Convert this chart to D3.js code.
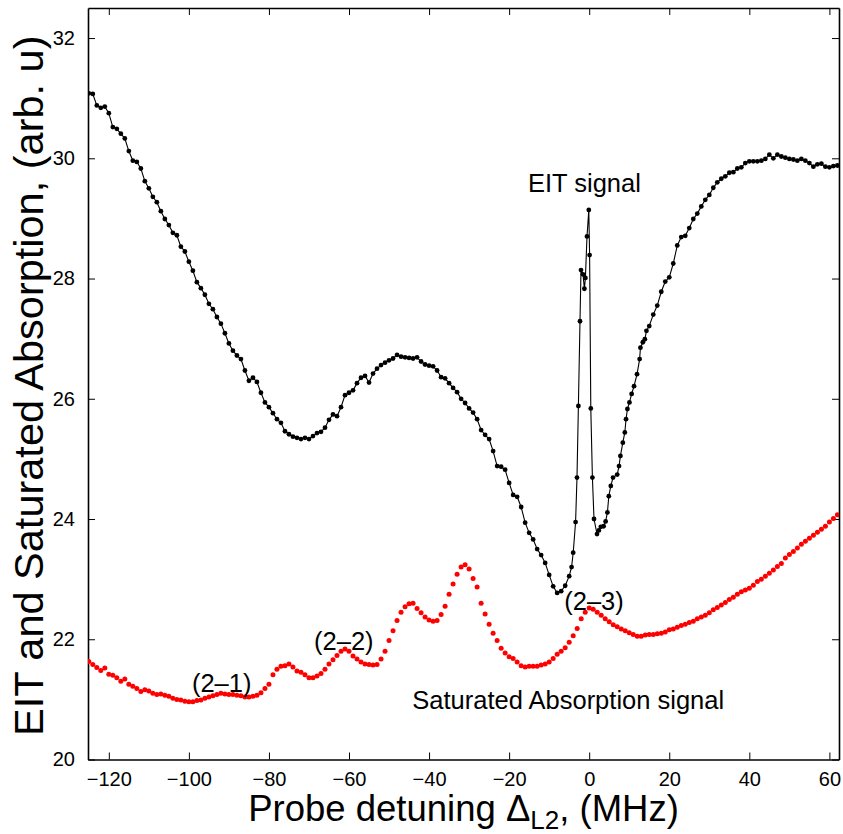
<!DOCTYPE html>
<html><head><meta charset="utf-8">
<script src="https://cdn.jsdelivr.net/npm/d3@7"></script>
<style>
html,body{margin:0;padding:0;background:#fff;}
svg{display:block;font-family:"Liberation Sans",Arial,sans-serif;}
</style></head>
<body>
<svg id="chart" width="843" height="834"></svg>
<script>
// ---- Data ----
const eitFreq = [-125,-124,-123,-122,-121,-120,-119,-118,-117,-116,-115,-114,-113,-112,-111,-110,-109,-108,-107,-106,-105,-104,-103,-102,-101,-100,-99,-98,-97,-96,-95,-94,-93,-92,-91,-90,-89,-88,-87,-86,-85,-84,-83,-82,-81,-80,-79,-78,-77,-76,-75,-74,-73,-72,-71,-70,-69,-68,-67,-66,-65,-64,-63,-62,-61,-60,-59,-58,-57,-56,-55,-54,-53,-52,-51,-50,-49,-48,-47,-46,-45,-44,-43,-42,-41,-40,-39,-38,-37,-36,-35,-34,-33,-32,-31,-30,-29,-28,-27,-26,-25,-24,-23,-22,-21,-20,-19,-18,-17,-16,-15,-14,-13,-12,-11,-10,-9,-8,-7,-6,-5,-4.4,-4,-3.4,-3.05,-2.7,-2.3,-2.05,-1.55,-1.2,-0.95,-0.55,-0.1,0.1,0.4,0.8,1.2,1.95,2.4,2.9,3.6,4.1,4.55,4.9,5.4,5.95,7,7.45,7.8,8.4,8.9,9.2,9.55,10.05,10.6,11.2,11.95,12.6,12.8,13.4,13.9,14.3,15,16,17,18,19,20,21,22,23,24,25,26,27,28,29,30,31,32,33,34,35,36,37,38,39,40,41,42,43,44,45,46,47,48,49,50,51,52,53,54,55,56,57,58,59,60,61,62];
const eitSignal = [31.08,31.07,30.88,30.84,30.86,30.75,30.52,30.49,30.41,30.33,30.12,29.96,29.94,29.83,29.62,29.50,29.36,29.27,29.12,28.99,28.89,28.76,28.72,28.53,28.45,28.28,28.13,27.94,27.84,27.73,27.58,27.49,27.36,27.25,27.09,26.92,26.80,26.72,26.66,26.47,26.30,26.35,26.28,26.10,25.94,25.86,25.76,25.66,25.60,25.46,25.41,25.37,25.35,25.33,25.35,25.33,25.38,25.43,25.45,25.52,25.65,25.74,25.71,25.86,26.06,26.10,26.14,26.26,26.35,26.38,26.27,26.42,26.50,26.56,26.60,26.64,26.67,26.73,26.70,26.69,26.68,26.67,26.69,26.62,26.57,26.55,26.54,26.47,26.36,26.34,26.26,26.18,26.11,26.00,25.93,25.84,25.77,25.66,25.48,25.40,25.33,25.13,24.88,24.87,24.82,24.60,24.40,24.37,24.20,23.94,23.77,23.66,23.50,23.40,23.27,23.07,22.88,22.77,22.80,22.89,23.05,23.20,23.44,23.95,24.69,25.88,27.29,28.14,28.07,27.83,28.01,28.70,29.14,28.39,25.84,24.69,24.00,23.75,23.81,23.87,23.88,23.96,24.11,24.38,24.55,24.69,24.74,24.88,25.05,25.27,25.44,25.66,25.83,25.94,26.08,26.21,26.41,26.66,26.85,26.94,26.99,27.13,27.21,27.40,27.55,27.78,27.95,28.02,28.25,28.55,28.69,28.71,28.84,28.99,29.08,29.20,29.31,29.39,29.51,29.60,29.66,29.70,29.76,29.77,29.83,29.85,29.92,29.95,29.95,29.95,29.96,29.99,30.06,30.00,30.06,30.03,30.01,29.99,29.98,29.96,29.99,29.96,29.92,29.86,29.90,29.91,29.86,29.85,29.87,29.88];

const saFreq = d3.range(-125, 63, 1);
const saSignal = [21.63,21.58,21.53,21.48,21.52,21.42,21.40,21.36,21.30,21.34,21.25,21.22,21.18,21.13,21.16,21.14,21.10,21.08,21.09,21.07,21.05,21.02,21.00,20.99,20.97,20.96,20.96,20.98,20.99,21.02,21.04,21.06,21.08,21.10,21.09,21.08,21.08,21.07,21.06,21.04,21.04,21.05,21.07,21.11,21.18,21.25,21.41,21.50,21.55,21.56,21.59,21.54,21.47,21.45,21.41,21.36,21.36,21.39,21.43,21.50,21.59,21.66,21.73,21.80,21.84,21.80,21.72,21.67,21.62,21.59,21.58,21.57,21.58,21.67,21.80,21.98,22.14,22.31,22.45,22.54,22.59,22.60,22.51,22.44,22.37,22.32,22.30,22.31,22.41,22.55,22.75,22.92,23.08,23.20,23.24,23.17,23.01,22.87,22.60,22.42,22.25,22.10,21.98,21.85,21.77,21.71,21.68,21.62,21.56,21.54,21.55,21.55,21.55,21.57,21.59,21.62,21.68,21.75,21.80,21.86,21.95,22.06,22.18,22.34,22.45,22.52,22.50,22.45,22.40,22.34,22.29,22.24,22.21,22.17,22.14,22.11,22.08,22.05,22.05,22.07,22.08,22.08,22.09,22.10,22.12,22.16,22.17,22.20,22.23,22.25,22.28,22.30,22.34,22.37,22.40,22.44,22.49,22.53,22.57,22.61,22.66,22.70,22.75,22.79,22.82,22.85,22.90,22.96,23.00,23.05,23.10,23.15,23.21,23.26,23.35,23.41,23.46,23.52,23.58,23.63,23.68,23.73,23.78,23.83,23.88,23.95,24.01,24.07];

const xTicks = [-120,-100,-80,-60,-40,-20,0,20,40,60];
const yTicks = [20,22,24,26,28,30,32];

const annotations = [
  {text:"EIT signal", f:-15.3, v:29.44, anchor:"start"},
  {text:"(2\u20131)", f:-91.8, v:21.12, anchor:"middle"},
  {text:"(2\u20132)", f:-61.3, v:21.82, anchor:"middle"},
  {text:"(2\u20133)", f:1.2, v:22.49, anchor:"middle"},
  {text:"Saturated Absorption signal", f:-44.2, v:20.84, anchor:"start"}
];

// ---- Layout ----
const W = 843, H = 834;
const margin = {left:88, right:4, top:8, bottom:74.5};
const x = d3.scaleLinear().domain([-125.2, 62.4]).range([margin.left, W - margin.right]);
const y = d3.scaleLinear().domain([20, 32.5]).range([H - margin.bottom, margin.top]);

const svg = d3.select("#chart");
const tickLen = 7;
const fontTick = 20;

// axes
const gB = svg.append("g").attr("transform", `translate(0,${y(20)})`)
  .call(d3.axisBottom(x).tickValues(xTicks).tickSizeInner(-tickLen).tickSizeOuter(0).tickPadding(12)
  .tickFormat(d => d < 0 ? "\u2212" + Math.abs(d) : d));
const gT = svg.append("g").attr("transform", `translate(0,${y(32.5)})`)
  .call(d3.axisTop(x).tickValues(xTicks).tickSizeInner(-tickLen).tickSizeOuter(0).tickFormat(""));
const gL = svg.append("g").attr("transform", `translate(${x(-125.2)},0)`)
  .call(d3.axisLeft(y).tickValues(yTicks).tickSizeInner(-tickLen).tickSizeOuter(0).tickPadding(13));
const gR = svg.append("g").attr("transform", `translate(${x(62.4)},0)`)
  .call(d3.axisRight(y).tickValues(yTicks).tickSizeInner(-tickLen).tickSizeOuter(0).tickFormat(""));
[gB,gT,gL,gR].forEach(g => {
  g.select(".domain").attr("stroke","#000").attr("stroke-width",1.6);
  g.selectAll(".tick line").attr("stroke","#000").attr("stroke-width",1);
  g.selectAll("text").attr("fill","#000").style("font-size", fontTick + "px").style("font-family","'Liberation Sans',Arial,sans-serif");
});
gB.selectAll(".tick text").attr("dy","0.71em");

// clip
svg.append("clipPath").attr("id","clip").append("rect")
  .attr("x", x(-125.2)).attr("y", y(32.5)).attr("width", x(62.4)-x(-125.2)).attr("height", y(20)-y(32.5));

const plot = svg.append("g").attr("clip-path","url(#clip)");

// SA signal (red dots)
const saData = saFreq.map((f,i) => ({f, v: saSignal[i]}));
plot.append("g").selectAll("circle").data(saData).join("circle")
  .attr("cx", d => x(d.f)).attr("cy", d => y(d.v)).attr("r", 2.5).attr("fill", "#ff0000");

// EIT signal (black line + dots)
const eitData = eitFreq.map((f,i) => ({f, v: eitSignal[i]}));
plot.append("path").datum(eitData)
  .attr("fill","none").attr("stroke","#000").attr("stroke-width",1.1)
  .attr("d", d3.line().x(d => x(d.f)).y(d => y(d.v)));
plot.append("g").selectAll("circle").data(eitData).join("circle")
  .attr("cx", d => x(d.f)).attr("cy", d => y(d.v)).attr("r", 2.4).attr("fill", "#000");

// annotations
svg.append("g").selectAll("text").data(annotations).join("text")
  .attr("x", d => x(d.f)).attr("y", d => y(d.v))
  .attr("text-anchor", d => d.anchor)
  .style("font-size","25.5px").attr("fill","#000")
  .text(d => d.text);

// axis labels
const xl = svg.append("text")
  .attr("x", (x(-125.2)+x(62.4))/2).attr("y", 821)
  .attr("text-anchor","middle").style("font-size","36.5px").attr("fill","#000");
xl.append("tspan").text("Probe detuning \u0394");
xl.append("tspan").attr("dy", 8).style("font-size","26px").text("L2");
xl.append("tspan").attr("dy", -8).text(", (MHz)");

svg.append("text")
  .attr("transform", `translate(43,${(y(20)+y(32.5))/2 + 2}) rotate(-90)`)
  .attr("text-anchor","middle").style("font-size","41.5px").attr("fill","#000")
  .text("EIT and Saturated Absorption, (arb. u)");
</script>
</body></html>
